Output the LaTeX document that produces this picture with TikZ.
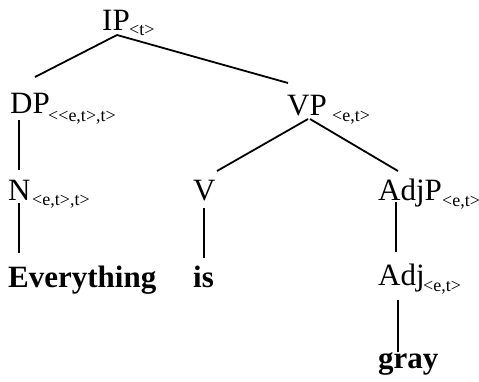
\documentclass[tikz,border=0pt]{standalone}
\usepackage{fontspec}
\setmainfont{Liberation Serif}
\usepackage{tikz}
\usetikzlibrary{positioning}

\tikzset{
  cat/.style={inner sep=0pt, anchor=base west, font=\fontsize{31}{36}\selectfont},
  word/.style={cat, font=\fontsize{31}{36}\selectfont\bfseries},
  ty/.style={inner sep=0pt, anchor=base west, font=\fontsize{18}{20}\selectfont},
  branch/.style={line width=1.8pt}
}

\begin{document}
\begin{tikzpicture}[x=1pt, y=-1pt]
        \useasboundingbox (0,0) rectangle (479,381);

        % Categories
        \node[cat] (ip)   at (102,30)  {IP};
        \node[cat] (dp)   at (10,113)  {DP};
        \node[cat] (vp)   at (287,115) {VP};
        \node[cat] (n)    at (8,200)   {N};
        \node[cat] (v)    at (193,200) {V};
        \node[cat] (adjp) at (378,200) {AdjP};
        \node[cat] (adj)  at (378,285) {Adj};

        % Types
        \node[ty] (ip-t)   at (129,35)  {<t>};
        \node[ty] (dp-t)   at (48,121)  {<{}<e,t>,t>};
        \node[ty] (vp-t)   at (332,121) {<e,t>};
        \node[ty] (n-t)    at (32,205)  {<e,t>,t>};
        \node[ty] (adjp-t) at (442,206) {<e,t>};
        \node[ty] (adj-t)  at (423,291) {<e,t>};

        % Words
        \node[word] (everything) at (8,287)   {Everything};
        \node[word] (is)         at (193,287) {is};
        \node[word] (gray)       at (378,368) {gray};

        % Branches
        \foreach \a/\sa/\b/\sb in {ip/{15,5}/dp/{25,-36}, ip/{15,5}/vp/{1,-32},
                                   dp/{9,7}/n/{11,-30}, vp/{21,4}/v/{24,-29},
                                   vp/{23,4}/adjp/{20,-29}, n/{11,3}/everything/{11,-34},
                                   v/{11,8}/is/{11,-29}, adjp/{18,2}/adj/{18,-33},
                                   adj/{20,15}/gray/{20,-16}}
        \draw[branch] ([shift={(\sa)}]\a.base west) -- ([shift={(\sb)}]\b.base west);

\end{tikzpicture}
\end{document}
